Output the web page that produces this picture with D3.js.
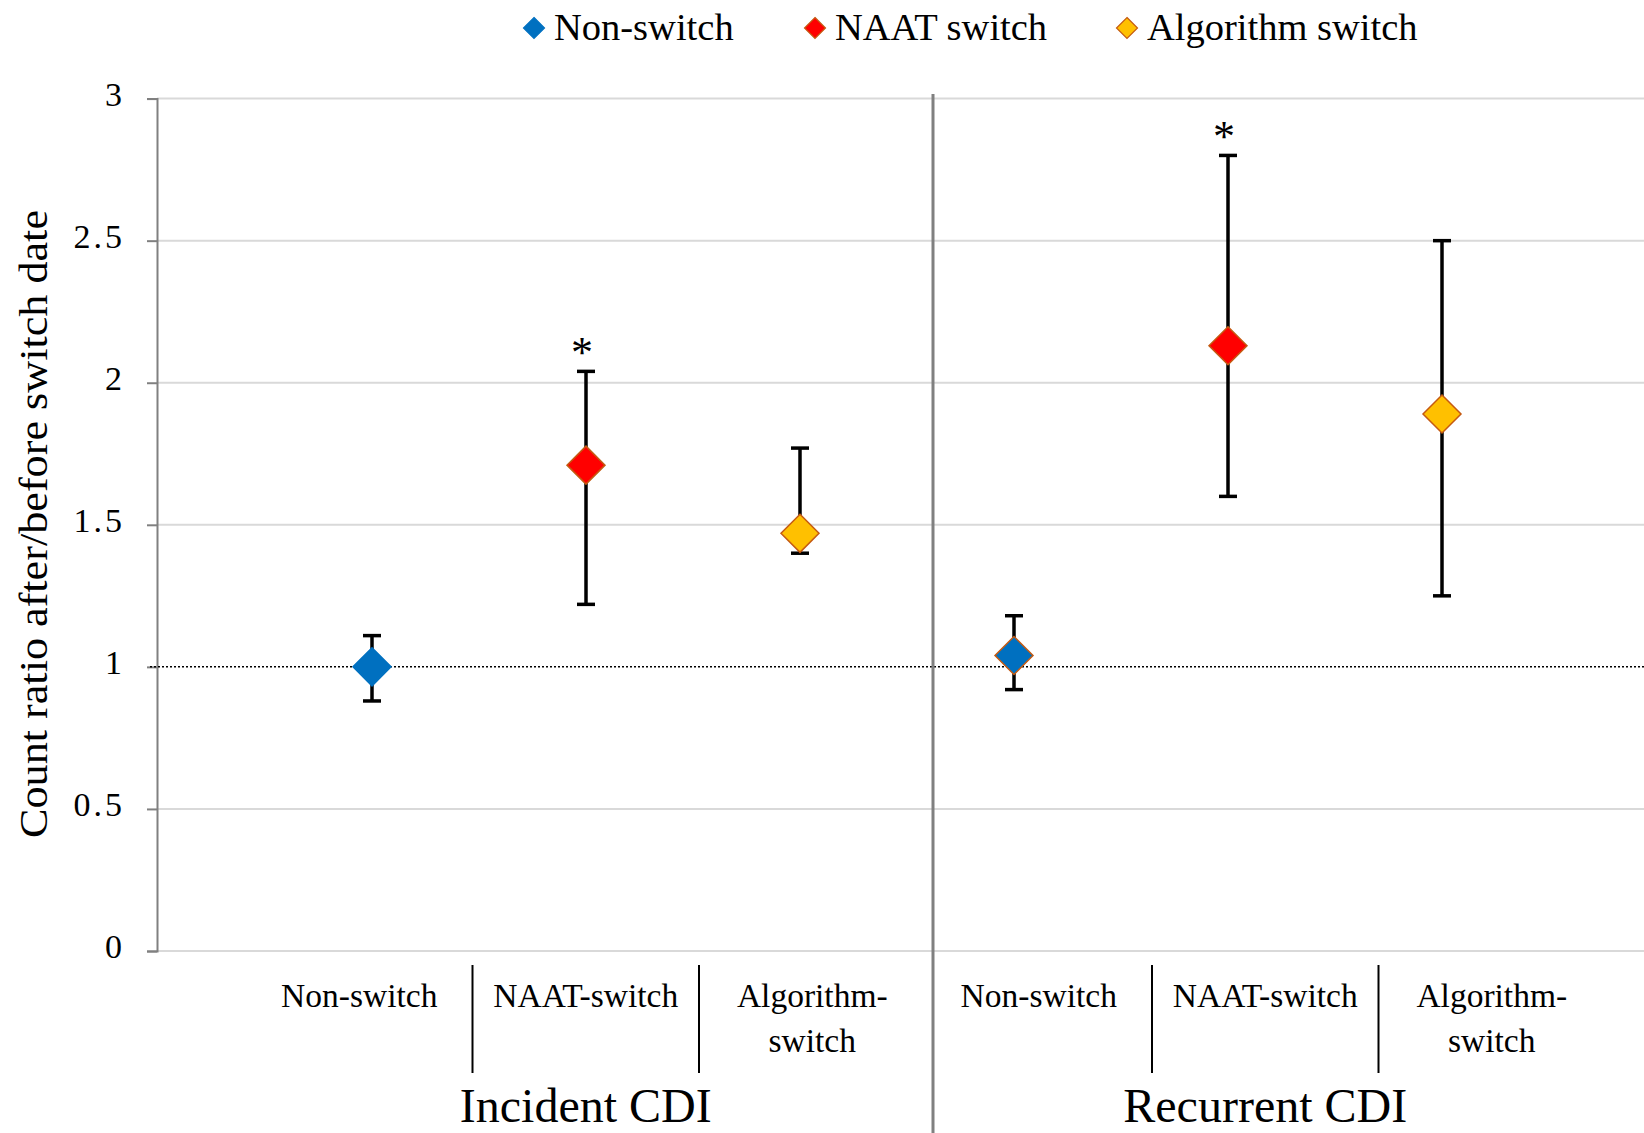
<!DOCTYPE html>
<html>
<head>
<meta charset="utf-8">
<script src="https://cdn.jsdelivr.net/npm/d3@7"></script>
<style>
  body { margin: 0; background: white; }
  svg { display: block; font-family: "Liberation Serif", "DejaVu Serif", serif; }
</style>
</head>
<body>
<svg id="chart"></svg>
<script>
var W = 1644, H = 1133;

// data
var groups = ["Incident CDI", "Recurrent CDI"];
var categories = ["Non-switch", "NAAT-switch", "Algorithm-switch"];
var series = ["Non-switch", "NAAT switch", "Algorithm switch"];
var colors = ["#0070c0", "#ff0000", "#ffc000"];
var incidentRatio = [1.00, 1.71, 1.47];
var incidentLow   = [0.88, 1.22, 1.40];
var incidentHigh  = [1.11, 2.04, 1.77];
var recurrentRatio = [1.04, 2.13, 1.89];
var recurrentLow   = [0.92, 1.60, 1.25];
var recurrentHigh  = [1.18, 2.80, 2.50];
var significant = [[false, true, false], [false, true, false]];
var yTicks = [0, 0.5, 1, 1.5, 2, 2.5, 3];
var refLine = 1;

var rows = [];
groups.forEach(function(g, gi) {
  var r = gi === 0 ? incidentRatio : recurrentRatio;
  var lo = gi === 0 ? incidentLow : recurrentLow;
  var hi = gi === 0 ? incidentHigh : recurrentHigh;
  categories.forEach(function(c, ci) {
    rows.push({key: gi + "-" + ci, g: gi, c: ci, v: r[ci], lo: lo[ci], hi: hi[ci], star: significant[gi][ci]});
  });
});

var svg = d3.select("#chart").attr("width", W).attr("height", H);

var axisX = 157, plotTop = 98.6, plotBottom = 951;
var y = d3.scaleLinear().domain([0, 3]).range([plotBottom, plotTop]);
var x = d3.scalePoint().domain(rows.map(function(d){ return d.key; })).range([372, 1442]);
var xl = d3.scaleBand().domain(rows.map(function(d){ return d.key; })).range([246, 1605]);

// gridlines
svg.append("g").selectAll("line")
  .data(yTicks.filter(function(t){ return t !== refLine; }))
  .enter().append("line")
  .attr("x1", axisX).attr("x2", W)
  .attr("y1", function(d){ return y(d); }).attr("y2", function(d){ return y(d); })
  .attr("stroke", "#d9d9d9").attr("stroke-width", 2);

// y axis
var yAxis = d3.axisLeft(y).tickValues(yTicks).tickSize(10).tickPadding(22)
  .tickFormat(function(d){ return d3.format("")(d); });
var ya = svg.append("g").attr("transform", "translate(" + axisX + ",0)").call(yAxis);
ya.select(".domain").attr("stroke", "#808080").attr("stroke-width", 2);
ya.selectAll(".tick line").attr("stroke", "#808080").attr("stroke-width", 2);
ya.selectAll(".tick text")
  .attr("font-family", "Liberation Serif").attr("font-size", 34)
  .attr("letter-spacing", 3).attr("fill", "#000").attr("dy", "0.2em");

// reference line at 1
svg.append("line")
  .attr("x1", 150).attr("x2", W)
  .attr("y1", y(refLine)).attr("y2", y(refLine))
  .attr("stroke", "#000").attr("stroke-width", 1.5).attr("stroke-dasharray", "2,2");

// group divider
svg.append("line")
  .attr("x1", 933).attr("x2", 933).attr("y1", 94).attr("y2", H)
  .attr("stroke", "#808080").attr("stroke-width", 3);

// y title
svg.append("text")
  .attr("transform", "translate(47," + 524 + ") rotate(-90)")
  .attr("text-anchor", "middle")
  .attr("font-size", 40)
  .attr("textLength", 628)
  .attr("lengthAdjust", "spacingAndGlyphs")
  .text("Count ratio after/before switch date");

// error bars
var capW = 9;
var eb = svg.append("g").selectAll("g").data(rows).enter().append("g");
eb.append("line")
  .attr("x1", function(d){ return x(d.key); }).attr("x2", function(d){ return x(d.key); })
  .attr("y1", function(d){ return y(d.lo); }).attr("y2", function(d){ return y(d.hi); })
  .attr("stroke", "#000").attr("stroke-width", 3.5);
eb.append("line")
  .attr("x1", function(d){ return x(d.key) - capW; }).attr("x2", function(d){ return x(d.key) + capW; })
  .attr("y1", function(d){ return y(d.lo); }).attr("y2", function(d){ return y(d.lo); })
  .attr("stroke", "#000").attr("stroke-width", 3.5);
eb.append("line")
  .attr("x1", function(d){ return x(d.key) - capW; }).attr("x2", function(d){ return x(d.key) + capW; })
  .attr("y1", function(d){ return y(d.hi); }).attr("y2", function(d){ return y(d.hi); })
  .attr("stroke", "#000").attr("stroke-width", 3.5);

// diamonds
var diamond = function(s) { return "M0," + (-s) + "L" + s + ",0L0," + s + "L" + (-s) + ",0Z"; };
svg.append("g").selectAll("path").data(rows).enter().append("path")
  .attr("d", diamond(19))
  .attr("transform", function(d){ return "translate(" + x(d.key) + "," + y(d.v) + ")"; })
  .attr("fill", function(d){ return colors[d.c]; })
  .attr("stroke", function(d){ return (d.g === 0 && d.c === 0) ? colors[0] : "#c55a11"; })
  .attr("stroke-width", 1.5);

// significance stars
svg.append("g").selectAll("text").data(rows.filter(function(d){ return d.star; }))
  .enter().append("text")
  .attr("x", function(d){ return x(d.key) - 4; })
  .attr("y", function(d){ return y(d.hi) - 4; })
  .attr("text-anchor", "middle")
  .attr("font-size", 44)
  .text("*");

// category labels
var lab = svg.append("g").selectAll("text").data(rows).enter().append("text")
  .attr("text-anchor", "middle")
  .attr("font-size", 33.5)
  .attr("y", 1007);
lab.each(function(d) {
  var t = d3.select(this);
  var name = categories[d.c];
  var cx = xl(d.key) + xl.bandwidth() / 2;
  if (name === "Algorithm-switch") {
    t.append("tspan").attr("x", cx).text("Algorithm-");
    t.append("tspan").attr("x", cx).attr("dy", 45).text("switch");
  } else {
    t.append("tspan").attr("x", cx).text(name);
  }
});

// category separators
svg.append("g").selectAll("line")
  .data(rows.filter(function(d){ return d.c > 0; }))
  .enter().append("line")
  .attr("x1", function(d){ return xl(d.key); }).attr("x2", function(d){ return xl(d.key); })
  .attr("y1", 965).attr("y2", 1073)
  .attr("stroke", "#000").attr("stroke-width", 2);

// group labels
svg.append("g").selectAll("text").data(groups).enter().append("text")
  .attr("x", function(d, i){ var k = i + "-1"; return xl(k) + xl.bandwidth() / 2; })
  .attr("y", 1122)
  .attr("text-anchor", "middle")
  .attr("font-size", 48)
  .text(function(d){ return d; });

// legend
var legendX = [534, 815, 1127];
var lg = svg.append("g").selectAll("g").data(series).enter().append("g")
  .attr("transform", function(d, i){ return "translate(" + legendX[i] + ",28)"; });
lg.append("path")
  .attr("d", diamond(10.5))
  .attr("fill", function(d, i){ return colors[i]; })
  .attr("stroke", function(d, i){ return i === 0 ? colors[0] : "#c55a11"; })
  .attr("stroke-width", 1.2);
lg.append("text")
  .attr("x", 20).attr("y", 12)
  .attr("font-size", 38.5)
  .text(function(d){ return d; });
</script>
</body>
</html>
